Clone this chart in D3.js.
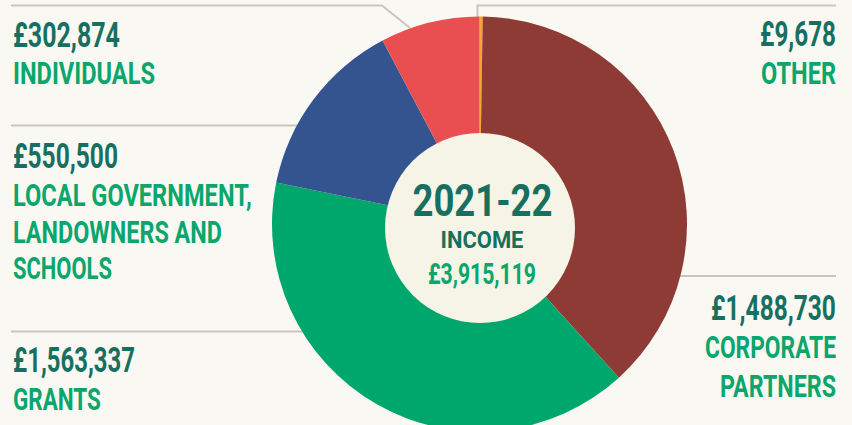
<!DOCTYPE html>
<html>
<head>
<meta charset="utf-8">
<script src="https://cdn.jsdelivr.net/npm/d3@7"></script>
<style>
  html, body { margin: 0; padding: 0; background: #faf8f3; }
  #chart { width: 852px; height: 425px; overflow: hidden; }
  text { font-family: Roboto, "DejaVu Sans Condensed", sans-serif; font-weight: 700; }
</style>
</head>
<body>
<div id="chart"></div>
<script>
// Income sources, clockwise from 12 o'clock
var categories = ["Other", "Corporate partners", "Grants", "Local government, landowners and schools", "Individuals"];
var nameLines = [
  ["OTHER"],
  ["CORPORATE", "PARTNERS"],
  ["GRANTS"],
  ["LOCAL GOVERNMENT,", "LANDOWNERS AND", "SCHOOLS"],
  ["INDIVIDUALS"]
];
var values = [9678, 1488730, 1563337, 550500, 302874];
var centreYear = "2021-22";
var centreLabel = "INCOME";

var sliceColours = ["#f4a52a", "#8d3b34", "#00a76d", "#33548e", "#e94f51"];

function makeChart() {
  var width = 852, height = 425;
  var svg = d3.select("#chart").append("svg")
    .attr("width", width)
    .attr("height", height);

  var colour = d3.scaleOrdinal().domain(categories).range(sliceColours);
  var money = function(v) { return "£" + d3.format(",")(v); };

  // label blocks: where each category's text sits and the leader line to the pie
  var labelLayout = [
    { idx: 4, anchor: "start", x: 13, ys: [47, 84], widths: [107, 142],
      line: [[11, 5.5], [382, 5.5], [410, 28]] },
    { idx: 3, anchor: "start", x: 13, ys: [168, 206, 243, 279], widths: [105, 239, 209, 99],
      line: [[11, 125.5], [300, 125.5]] },
    { idx: 2, anchor: "start", x: 13, ys: [372, 410], widths: [122, 88],
      line: [[11, 331.5], [305, 331.5]] },
    { idx: 0, anchor: "end", x: 836, ys: [46, 84], widths: [76, 75],
      line: [[836, 5.5], [477.5, 5.5], [477.5, 20]] },
    { idx: 1, anchor: "end", x: 836, ys: [320, 358, 397], widths: [125, 131, 116],
      line: [[678, 276], [836, 276]] }
  ];

  // leader lines go under the pie
  svg.append("g").selectAll("path")
    .data(labelLayout)
    .enter().append("path")
      .attr("d", function(d) { return d3.line()(d.line); })
      .attr("fill", "none")
      .attr("stroke", "#c5c5c2")
      .attr("stroke-width", 2);

  var cx = 479.5, cy = 224, outerRadius = 207.5;

  var pie = d3.pie().sort(null).value(function(d) { return d; });
  var arc = d3.arc().innerRadius(0).outerRadius(outerRadius);

  var pieG = svg.append("g").attr("transform", "translate(" + cx + "," + cy + ")");
  pieG.selectAll("path")
    .data(pie(values))
    .enter().append("path")
      .attr("fill", function(d, i) { return colour(categories[i]); })
      .attr("d", arc);

  // centre disc
  svg.append("circle")
    .attr("cx", 480).attr("cy", 228).attr("r", 95)
    .attr("fill", "#f6f3e7");

  var dark = "#17705f", green = "#0aa66b";

  function addText(x, y, txt, size, fill, anchor, w) {
    var t = svg.append("text")
      .attr("font-size", size)
      .attr("fill", fill)
      .text(txt);
    // squeeze horizontally to the condensed width of the original lettering
    var k = w / t.node().getComputedTextLength();
    var left = anchor === "end" ? x - w : anchor === "middle" ? x - w / 2 : x;
    t.attr("transform", "translate(" + left + "," + y + ") scale(" + k + ",1)");
    return t;
  }

  labelLayout.forEach(function(b) {
    addText(b.x, b.ys[0], money(values[b.idx]), 35, dark, b.anchor, b.widths[0]);
    nameLines[b.idx].forEach(function(line, j) {
      addText(b.x, b.ys[j + 1], line, 32, green, b.anchor, b.widths[j + 1]);
    });
  });

  addText(482.5, 216, centreYear, 45, dark, "middle", 140);
  addText(482, 248, centreLabel, 23, dark, "middle", 83);
  addText(482, 284, money(d3.sum(values)), 30, green, "middle", 108);
}

makeChart();
</script>
</body>
</html>
